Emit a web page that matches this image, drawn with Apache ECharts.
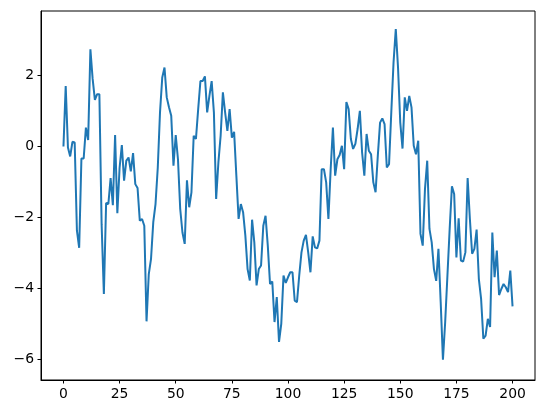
<!DOCTYPE html>
<html>
<head>
<meta charset="utf-8">
<script src="https://cdn.jsdelivr.net/npm/echarts@6/dist/echarts.min.js"></script>
<style>
  html, body { margin: 0; padding: 0; background: #fff; }
  #chart { width: 546px; height: 413px; }
</style>
</head>
<body>
<div id="chart"></div>
<script>
// values of the walk (step 0 .. 200)
const walk = [
  0.00, 1.70, -0.03, -0.28, 0.13, 0.11, -2.37, -2.85, -0.34, -0.34,
  0.53, 0.18, 2.73, 1.90, 1.31, 1.47, 1.47, -2.20, -4.15, -1.59,
  -1.62, -0.89, -1.65, 0.32, -1.88, -0.60, 0.04, -0.96, -0.40, -0.31,
  -0.70, -0.19, -1.06, -1.17, -2.09, -2.04, -2.23, -4.92, -3.59, -3.16,
  -2.13, -1.62, -0.60, 0.96, 1.94, 2.22, 1.38, 1.10, 0.86, -0.54,
  0.32, -0.36, -1.76, -2.42, -2.74, -0.95, -1.71, -1.29, 0.30, 0.21,
  1.05, 1.84, 1.84, 1.97, 0.96, 1.42, 1.84, 0.96, -1.48, -0.45,
  0.30, 1.52, 0.96, 0.44, 1.05, 0.25, 0.41, -0.82, -2.04, -1.62,
  -1.85, -2.50, -3.45, -3.77, -2.06, -2.70, -3.91, -3.45, -3.35, -2.23,
  -1.95, -2.79, -3.87, -3.80, -4.94, -4.24, -5.50, -4.99, -3.63, -3.84,
  -3.68, -3.54, -3.54, -4.34, -4.38, -3.63, -2.98, -2.65, -2.49, -2.98,
  -3.54, -2.53, -2.84, -2.87, -2.65, -0.64, -0.64, -1.01, -2.04, -0.64,
  0.53, -0.82, -0.36, -0.24, 0.02, -0.64, 1.25, 1.05, 0.21, -0.07,
  0.07, 0.49, 1.00, -0.17, -0.82, 0.35, -0.12, -0.22, -1.01, -1.29,
  -0.26, 0.67, 0.79, 0.63, -0.59, -0.50, 0.96, 2.36, 3.30, 2.22,
  0.67, -0.06, 1.38, 1.00, 1.42, 1.10, 0.02, -0.22, 0.16, -2.46,
  -2.79, -1.20, -0.40, -2.32, -2.70, -3.45, -3.78, -2.88, -4.38, -6.00,
  -4.94, -3.63, -2.32, -1.12, -1.34, -3.12, -2.02, -3.21, -3.24, -2.98,
  -0.89, -2.04, -3.02, -2.88, -2.34, -3.73, -4.29, -5.41, -5.32, -4.85,
  -5.08, -2.42, -3.68, -2.93, -4.18, -4.01, -3.87, -3.96, -4.10, -3.49,
  -4.50
];
const xTicks = [0, 25, 50, 75, 100, 125, 150, 175, 200];
const yTicks = [-6, -4, -2, 0, 2];

const points = walk.map((v, i) => [i, v]);
const minus = v => String(v).replace('-', '\u2212');

const chart = echarts.init(document.getElementById('chart'));
chart.setOption({
  animation: false,
  grid: {
    left: 41, right: 11, top: 11, bottom: 33,
    show: true, borderColor: '#000', borderWidth: 1
  },
  xAxis: {
    type: 'value',
    min: -10, max: 210,
    splitLine: { show: false },
    axisLine: { onZero: false, lineStyle: { color: '#000', width: 1 } },
    axisTick: { length: 3.5, lineStyle: { color: '#000' }, customValues: xTicks },
    axisLabel: {
      margin: 7, color: '#000', fontFamily: 'DejaVu Sans', fontSize: 13.9,
      customValues: xTicks, formatter: minus
    }
  },
  yAxis: {
    type: 'value',
    min: -6.57, max: 3.81,
    splitLine: { show: false },
    axisLine: { show: true, onZero: false, lineStyle: { color: '#000', width: 1 } },
    axisTick: { show: true, length: 3.5, lineStyle: { color: '#000' }, customValues: yTicks },
    axisLabel: {
      margin: 7, color: '#000', fontFamily: 'DejaVu Sans', fontSize: 13.9,
      customValues: yTicks, formatter: minus
    }
  },
  series: [{
    type: 'line',
    data: points,
    showSymbol: false,
    symbol: 'none',
    lineStyle: { color: '#1f77b4', width: 2 }
  }]
});
</script>
</body>
</html>
